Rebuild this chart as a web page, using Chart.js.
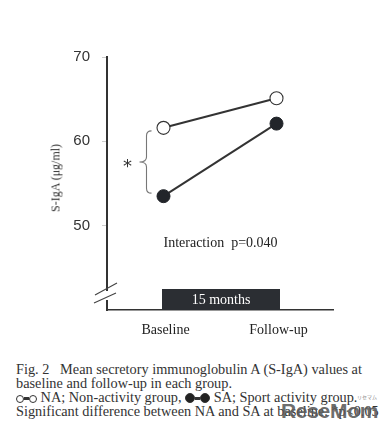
<!DOCTYPE html>
<html>
<head>
<meta charset="utf-8">
<script src="https://cdn.jsdelivr.net/npm/chart.js@4.4.1/dist/chart.umd.min.js"></script>
<style>
  html, body { margin: 0; padding: 0; background: #fff; }
  body { width: 392px; height: 435px; position: relative; overflow: hidden; }
  #wrap { position: absolute; left: 0; top: 0; width: 392px; height: 345px; }
  #ytitle { position: absolute; left: 56px; top: 178px; transform: translate(-50%, -50%) rotate(-90deg);
    font-family: "Liberation Serif", serif; font-size: 12px; color: #333; white-space: nowrap; }
  #caption { position: absolute; left: 16px; top: 362px; font-family: "Liberation Serif", serif;
    font-size: 14.3px; line-height: 14px; color: #333; white-space: nowrap; }
  .c { display: inline-block; width: 8px; height: 8px; border-radius: 50%; border: 1px solid #333; box-sizing: border-box; vertical-align: -1px; }
  .c.f { background: #222; width: 10px; height: 10px; vertical-align: -1px; }
  .l { display: inline-block; width: 5px; height: 3px; background: #333; vertical-align: 2px; }
  #wm { position: absolute; left: 281px; top: 399px; font-family: "Liberation Sans", Arial, sans-serif; font-weight: bold;
    font-size: 21px; color: rgba(90,90,90,0.9); letter-spacing: -0.3px; }
  #wmk { position: absolute; left: 357px; top: 393px; font-family: "Noto Sans CJK JP", sans-serif; font-size: 5px; color: #888; }
</style>
</head>
<body>
<div id="wrap"><canvas id="chart"></canvas></div>
<div id="ytitle">S-IgA (μg/ml)</div>
<div id="caption">
Fig. 2&nbsp;&nbsp; Mean secretory immunoglobulin A (S-IgA) values at<br>
baseline and follow-up in each group.<br>
<span class="c"></span><span class="l"></span><span class="c"></span> NA; Non-activity group, <span class="c f"></span><span class="l"></span><span class="c f"></span> SA; Sport activity group.<br>
Significant difference between NA and SA at baseline. *p&lt;0.05
</div>
<div id="wmk">リセマム</div>
<div id="wm">ReseMom</div>
<script>
const categories = ['Baseline', 'Follow-up'];
const naValues = [61.6, 65.1];
const saValues = [53.5, 62.1];
const yTickValues = [50, 60, 70];
const yMin = 40, yMax = 70;
const interactionText = 'Interaction  p=0.040';
const periodText = '15 months';

const serif = '"Liberation Serif", serif';

const annotations = {
  id: 'annotations',
  afterDraw(chart) {
    const { ctx, scales: { x, y } } = chart;
    const xb = x.getPixelForValue(0);
    const xf = x.getPixelForValue(1);
    const yBottom = y.getPixelForValue(yMin);
    ctx.save();

    // period bar
    ctx.fillStyle = '#2b2e33';
    const rx0 = xb - 1.5, rx1 = xf + 3.5, ry0 = yBottom - 21;
    ctx.fillRect(rx0, ry0, rx1 - rx0, yBottom - ry0);
    ctx.fillStyle = '#fff';
    ctx.font = '14px ' + serif;
    ctx.textAlign = 'center';
    ctx.textBaseline = 'middle';
    ctx.fillText(periodText, (rx0 + rx1) / 2, ry0 + 11);

    // interaction text
    ctx.fillStyle = '#222';
    ctx.textAlign = 'left';
    ctx.font = '14px ' + serif;
    ctx.fillText(interactionText, xb, 243);

    // brace
    const yt = y.getPixelForValue(naValues[0]) + 3;
    const yb = y.getPixelForValue(saValues[0]) - 3;
    const ym = (yt + yb) / 2;
    const bx = xb - 17, tip = bx - 7, r = 5;
    ctx.strokeStyle = '#777';
    ctx.lineWidth = 1.1;
    ctx.beginPath();
    ctx.moveTo(bx + r, yt);
    ctx.quadraticCurveTo(bx, yt, bx, yt + r);
    ctx.lineTo(bx, ym - r);
    ctx.quadraticCurveTo(bx, ym, tip, ym);
    ctx.quadraticCurveTo(bx, ym, bx, ym + r);
    ctx.lineTo(bx, yb - r);
    ctx.quadraticCurveTo(bx, yb, bx + r, yb);
    ctx.stroke();

    // asterisk
    ctx.fillStyle = '#333';
    ctx.font = '18px "DejaVu Sans", sans-serif';
    ctx.textAlign = 'center';
    ctx.fillText('*', tip - 12, ym + 5);

    // axis break
    const ax = x.left;
    ctx.fillStyle = '#fff';
    ctx.fillRect(ax - 2, yBottom - 19, 4, 9);
    ctx.strokeStyle = '#444';
    ctx.lineWidth = 1.1;
    ctx.beginPath();
    ctx.moveTo(ax - 12, yBottom - 15); ctx.lineTo(ax + 10, yBottom - 27);
    ctx.moveTo(ax - 13, yBottom - 7); ctx.lineTo(ax + 9, yBottom - 17);
    ctx.stroke();
    ctx.restore();
  }
};

new Chart(document.getElementById('chart'), {
  type: 'line',
  data: {
    labels: categories,
    datasets: [
      { label: 'NA', data: naValues, borderColor: '#333', borderWidth: 2,
        pointRadius: 6.5, pointBackgroundColor: '#fff', pointBorderColor: '#333', pointBorderWidth: 1.1 },
      { label: 'SA', data: saValues, borderColor: '#333', borderWidth: 2,
        pointRadius: 6.5, pointBackgroundColor: '#22252a', pointBorderColor: '#22252a', pointBorderWidth: 1 }
    ]
  },
  options: {
    responsive: true,
    maintainAspectRatio: false,
    animation: false,
    events: [],
    layout: { padding: { top: 57, right: 59, left: 0, bottom: 0 } },
    plugins: { legend: { display: false }, tooltip: { enabled: false } },
    scales: {
      x: {
        type: 'category',
        offset: true,
        grid: { display: false },
        border: { display: true, color: '#333', width: 1.5 },
        ticks: { font: { family: serif, size: 14 }, color: '#222', padding: 4, labelOffset: 2 },
        afterFit(s) { s.height = 35; }
      },
      y: {
        min: yMin, max: yMax,
        afterBuildTicks(s) { s.ticks = yTickValues.map(v => ({ value: v })); },
        grid: { drawOnChartArea: false, tickLength: 5, color: '#ccc', lineWidth: 1 },
        border: { display: true, color: '#333', width: 2 },
        ticks: { font: { family: '"Liberation Sans", Arial, sans-serif', size: 15 }, color: '#333', padding: 12 },
        afterFit(s) { s.width = 107; }
      }
    }
  },
  plugins: [annotations]
});
</script>
</body>
</html>
